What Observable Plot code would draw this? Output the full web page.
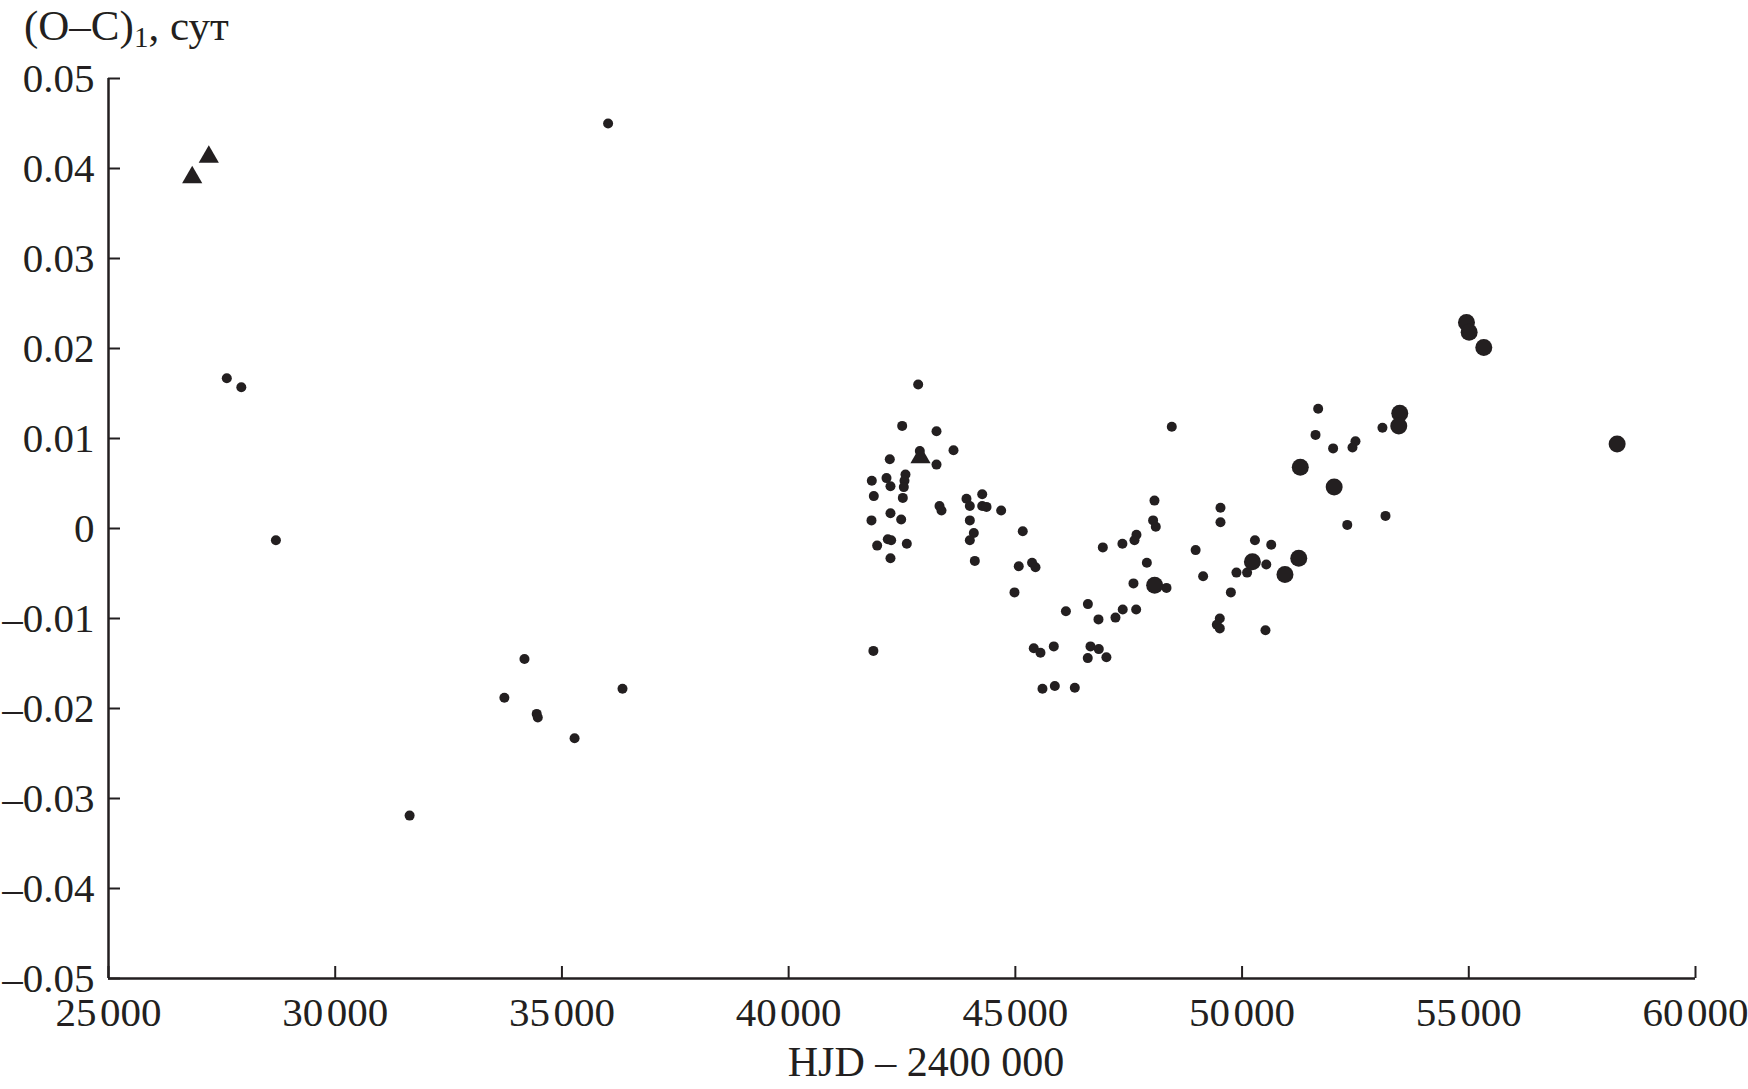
<!DOCTYPE html>
<html>
<head>
<meta charset="utf-8">
<script src="https://cdn.jsdelivr.net/npm/d3@7"></script>
<script src="https://cdn.jsdelivr.net/npm/@observablehq/plot@0.6"></script>
<style>
  html, body { margin: 0; padding: 0; background: #fff; }
  #chart svg { display: block; }
</style>
</head>
<body>
<div id="chart"></div>
<script>
// ---- data (HJD − 2400000, (O–C)1 in days) ----
const smallX = [27609, 27929, 28692, 36018, 31641, 33731, 34174, 34444, 34468, 35279, 36336, 41869,
  42857, 42504, 43261, 43636, 42231, 42893, 43261, 41834, 42158, 42246, 42577, 42555, 42540, 41878,
  42518, 43327, 43371, 43922, 43996, 44269, 44269, 44364, 44687, 42246, 42482, 41827, 43996, 45163,
  44084, 43996, 42187, 42261, 41952, 42606, 42246, 44106, 45075, 45369, 45444, 44981, 46929, 47361,
  47671, 47627, 47900, 47605, 46115, 46600, 46833, 47208, 47368, 47664, 45406, 45554, 45848, 46657,
  46840, 46597, 47008, 45598, 45870, 46311, 51678, 51620, 52008, 52501, 52435, 53096, 53163, 52320,
  48450, 48068, 48038, 48097, 48333, 48976, 49524, 49524, 49141, 49753, 49876, 50111, 50284, 50643,
  50534, 50516, 49509, 49443, 49509];
const smallY = [0.0167, 0.0157, -0.0013, 0.0450, -0.0319, -0.0188, -0.0145, -0.0206, -0.0210, -0.0233, -0.0178, -0.0136,
  0.0160, 0.0114, 0.0108, 0.0087, 0.0077, 0.0086, 0.0071, 0.0053, 0.0056, 0.0047, 0.0060, 0.0053, 0.0046, 0.0036,
  0.0034, 0.0025, 0.0020, 0.0033, 0.0025, 0.0038, 0.0025, 0.0024, 0.0020, 0.0017, 0.0010, 0.0009, 0.0009, -0.0003,
  -0.0005, -0.0013, -0.0012, -0.0013, -0.0019, -0.0017, -0.0033, -0.0036, -0.0042, -0.0038, -0.0043, -0.0071, -0.0021, -0.0017,
  -0.0007, -0.0013, -0.0038, -0.0061, -0.0092, -0.0084, -0.0101, -0.0099, -0.0090, -0.0090, -0.0133, -0.0138, -0.0131, -0.0131,
  -0.0134, -0.0144, -0.0143, -0.0178, -0.0175, -0.0177, 0.0133, 0.0104, 0.0089, 0.0097, 0.0090, 0.0112, 0.0014, 0.0004,
  0.0113, 0.0031, 0.0009, 0.0002, -0.0066, -0.0024, 0.0023, 0.0007, -0.0053, -0.0071, -0.0049, -0.0049, -0.0013, -0.0018,
  -0.0040, -0.0113, -0.0100, -0.0107, -0.0111];

const largeX = [48072, 50228, 50946, 51250, 51284, 52031, 53478, 53456, 54949, 55008, 55331, 58272];
const largeY = [-0.0063, -0.0037, -0.0051, -0.0033, 0.0068, 0.0046, 0.0128, 0.0114, 0.0229, 0.0218, 0.0201, 0.0094];

const triX = [26846, 27212, 42908];
const triY = [0.0390, 0.0413, 0.0079];

const xTicks = [25000, 30000, 35000, 40000, 45000, 50000, 55000, 60000];
const yTicks = [0.05, 0.04, 0.03, 0.02, 0.01, 0, -0.01, -0.02, -0.03, -0.04, -0.05];
const xTickLabels = ["25\u200a000", "30\u200a000", "35\u200a000", "40\u200a000", "45\u200a000", "50\u200a000", "55\u200a000", "60\u200a000"];
const yTickLabels = ["0.05", "0.04", "0.03", "0.02", "0.01", "0", "\u20130.01", "\u20130.02", "\u20130.03", "\u20130.04", "\u20130.05"];

const yTitle = "(O\u2013C)";
const yTitleSub = "1";
const yTitleRest = ", сут";
const xTitle = "HJD \u2013 2400 000";

// ---- build ----
const small = smallX.map((x, i) => ({x, y: smallY[i]}));
const large = largeX.map((x, i) => ({x, y: largeY[i]}));
const tri = triX.map((x, i) => ({x, y: triY[i]}));

const W = 1748, H = 1089;
const mL = 108, mR = 53, mT = 78, mB = 111;
const ink = "#231f20";
const font = "'Liberation Serif', 'Times New Roman', serif";

const chart = Plot.plot({
  width: W, height: H,
  marginLeft: mL, marginRight: mR, marginTop: mT, marginBottom: mB,
  style: {fontFamily: font, background: "#fff", color: ink},
  x: {domain: [25000, 60000], axis: null},
  y: {domain: [-0.05, 0.05], axis: null},
  marks: [
    Plot.axisX(xTicks, {tickSize: 0, tickPadding: 18, fontSize: 41, fill: ink, label: null,
      tickFormat: d => xTickLabels[xTicks.indexOf(d)]}),
    Plot.axisY(yTicks, {tickSize: 0, tickPadding: 14, fontSize: 41, fill: ink, label: null,
      tickFormat: d => yTickLabels[yTicks.indexOf(d)]}),
    Plot.tickY(yTicks, {y: d => d, stroke: ink, strokeWidth: 2, insetRight: (W - mL - mR) - 12}),
    Plot.tickX(xTicks, {x: d => d, stroke: ink, strokeWidth: 2, insetTop: (H - mT - mB) - 12}),
    Plot.ruleX([25000], {stroke: ink, strokeWidth: 2.5}),
    Plot.ruleY([-0.05], {stroke: ink, strokeWidth: 2.5}),
    Plot.dot(small, {x: "x", y: "y", r: 5, fill: ink, stroke: null}),
    Plot.dot(large, {x: "x", y: "y", r: 8.5, fill: ink, stroke: null}),
    Plot.dot(tri, {x: "x", y: "y", r: 7.5, symbol: "triangle", fill: ink, stroke: null})
  ]
});

document.getElementById("chart").appendChild(chart);

const svg = d3.select(chart);
const t1 = svg.append("text")
  .attr("x", 24).attr("y", 40)
  .attr("text-anchor", "start")
  .attr("font-family", font).attr("font-size", 43).attr("fill", ink);
t1.append("tspan").text(yTitle);
t1.append("tspan").attr("font-size", 29).attr("dy", 7).text(yTitleSub);
t1.append("tspan").attr("dy", -7).text(yTitleRest);

svg.append("text")
  .attr("x", 926).attr("y", 1076)
  .attr("text-anchor", "middle")
  .attr("font-family", font).attr("font-size", 42).attr("fill", ink)
  .text(xTitle);
</script>
</body>
</html>
